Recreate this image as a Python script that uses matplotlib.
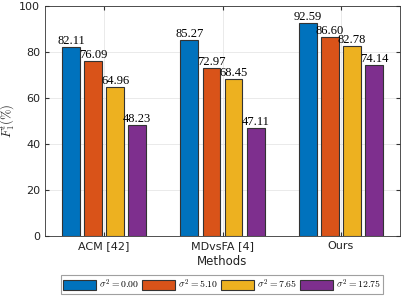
import numpy as np
import matplotlib.pyplot as plt

# dados do gráfico
methods = ['ACM [42]', 'MDvsFA [4]', 'Ours']
series_labels = [r'$\sigma^2 = 0.00$', r'$\sigma^2 = 5.10$',
                 r'$\sigma^2 = 7.65$', r'$\sigma^2 = 12.75$']
s000 = [82.11, 85.27, 92.59]
s510 = [76.09, 72.97, 86.60]
s765 = [64.96, 68.45, 82.78]
s1275 = [48.23, 47.11, 74.14]
colors = ['#0072BD', '#D95319', '#EDB120', '#7E2F8E']

plt.rcParams['mathtext.fontset'] = 'cm'

fig = plt.figure(figsize=(4.15, 3.01), dpi=100)
ax = fig.add_axes([45 / 415, 1 - 236 / 301, 355 / 415, 230 / 301])

x = np.arange(1, len(methods) + 1)
offsets = [-0.279, -0.093, 0.093, 0.279]
width = 0.152
handles = []
for vals, off, c, lab in zip([s000, s510, s765, s1275], offsets, colors, series_labels):
    b = ax.bar(x + off, vals, width, color=c, edgecolor='#333333', linewidth=0.8,
               label=lab, zorder=3)
    handles.append(b)
    for xi, v in zip(x + off, vals):
        ax.text(xi, v, f'{v:.2f}', ha='center', va='bottom', fontsize=9,
                family='Liberation Serif', zorder=4)

ax.set_xlim(0.5, 3.5)
ax.set_ylim(0, 100)
ax.set_xticks(x)
ax.set_xticklabels(methods)
ax.set_yticks(range(0, 101, 20))
ax.tick_params(labelsize=8, direction='in', length=3, color='#333333',
               top=True, right=True, labelcolor='#222222')
ax.grid(True, color='#e6e6e6', linewidth=0.6, zorder=0)
for s in ax.spines.values():
    s.set_color('#333333')
    s.set_linewidth(0.6)

ax.set_xlabel('Methods', fontsize=8.5, color='#222222', labelpad=3)
ax.set_ylabel(r'$F_1^t(\%)$', fontsize=9, color='#222222', labelpad=2)

leg = fig.legend(handles=handles, loc='center', bbox_to_anchor=(222 / 415, 1 - 284.5 / 301),
                 ncol=4, fontsize=7, frameon=True, fancybox=False, edgecolor='#888888',
                 handlelength=3.4, handleheight=1.2, handletextpad=0.3, columnspacing=0.3,
                 borderpad=0.25, borderaxespad=0)
leg.get_frame().set_linewidth(0.8)

fig.savefig('out.png', dpi=100)
